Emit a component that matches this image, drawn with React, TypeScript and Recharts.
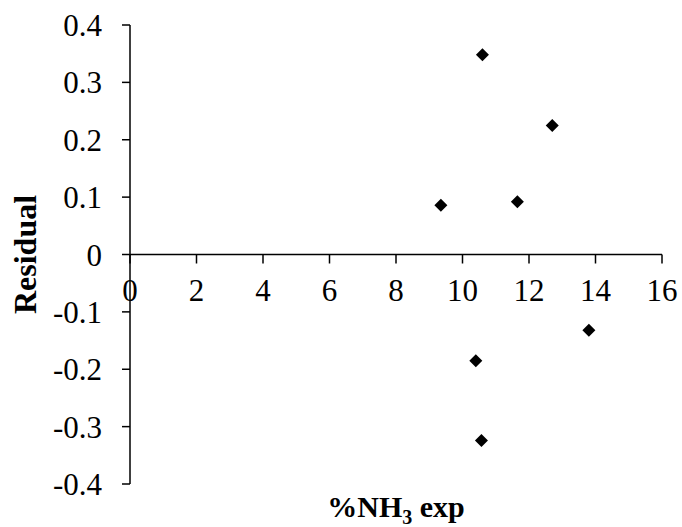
import React from "react";
import {
  ScatterChart,
  Scatter,
  XAxis,
  YAxis,
  ReferenceLine,
  ReferenceDot,
} from "recharts";

const xValues = [9.35, 10.6, 11.65, 12.7, 13.8, 10.4, 10.57];
const residuals = [0.086, 0.348, 0.092, 0.225, -0.132, -0.185, -0.324];
const xTicks = [0, 2, 4, 6, 8, 10, 12, 14, 16];
const yTicks = [-0.4, -0.3, -0.2, -0.1, 0, 0.1, 0.2, 0.3, 0.4];

const data = xValues.map((x, i) => ({ x, y: residuals[i] }));

const FONT = '"Liberation Serif", "Times New Roman", serif';

const Diamond = (props: any) => {
  const { cx, cy } = props;
  const r = 6.5;
  return (
    <polygon
      points={`${cx},${cy - r} ${cx + r},${cy} ${cx},${cy + r} ${cx - r},${cy}`}
      fill="#000"
    />
  );
};

const XTick = (props: any) => {
  const { cx, cy, label } = props;
  return (
    <g>
      <line x1={cx} y1={cy} x2={cx} y2={cy + 9} stroke="#000" strokeWidth={1.5} />
      <text
        x={cx}
        y={cy + 46}
        textAnchor="middle"
        fontFamily={FONT}
        fontSize={31}
        fill="#000"
      >
        {label}
      </text>
    </g>
  );
};

const XLabel = (props: any) => {
  const vb = props.viewBox || {};
  const cx = vb.x + vb.width / 2;
  return (
    <text
      x={cx}
      y={vb.y + 33}
      textAnchor="middle"
      fontFamily={FONT}
      fontSize={30}
      fontWeight="bold"
      fill="#000"
    >
      <tspan>%NH</tspan>
      <tspan fontSize={20} dy={7}>3</tspan>
      <tspan dy={-7}> exp</tspan>
    </text>
  );
};

const YLabel = (props: any) => {
  const vb = props.viewBox || {};
  const cx = vb.x + 25;
  const cy = vb.y + vb.height / 2;
  return (
    <text
      x={cx}
      y={cy}
      transform={`rotate(-90, ${cx}, ${cy})`}
      textAnchor="middle"
      dominantBaseline="central"
      fontFamily={FONT}
      fontSize={32}
      fontWeight="bold"
      fill="#000"
    >
      Residual
    </text>
  );
};

export default function App() {
  return (
    <div style={{ position: "absolute", left: 0, top: 0, background: "#fff" }}>
      <ScatterChart
        width={682}
        height={527}
        margin={{ top: 25, right: 20, bottom: 0, left: 0 }}
      >
        <XAxis
          type="number"
          dataKey="x"
          domain={[0, 16]}
          ticks={xTicks}
          tick={false}
          tickLine={false}
          axisLine={false}
          height={43}
          label={<XLabel />}
        />
        <YAxis
          type="number"
          dataKey="y"
          domain={[-0.4, 0.4]}
          ticks={yTicks}
          width={130}
          tickSize={8}
          tickMargin={20}
          interval={0}
          axisLine={{ stroke: "#000", strokeWidth: 1.5 }}
          tickLine={{ stroke: "#000", strokeWidth: 1.5 }}
          tick={{ fill: "#000", fontSize: 31, fontFamily: FONT }}
          tickFormatter={(v: number) => (v === 0 ? "0" : v.toFixed(1))}
          label={<YLabel />}
        />
        <ReferenceLine y={0} stroke="#000" strokeWidth={1.5} />
        {xTicks.map((t) => (
          <ReferenceDot
            key={t}
            x={t}
            y={0}
            r={0}
            shape={(p: any) => <XTick {...p} label={String(t)} />}
          />
        ))}
        <Scatter
          data={data}
          fill="#000"
          shape={<Diamond />}
          isAnimationActive={false}
        />
      </ScatterChart>
    </div>
  );
}
